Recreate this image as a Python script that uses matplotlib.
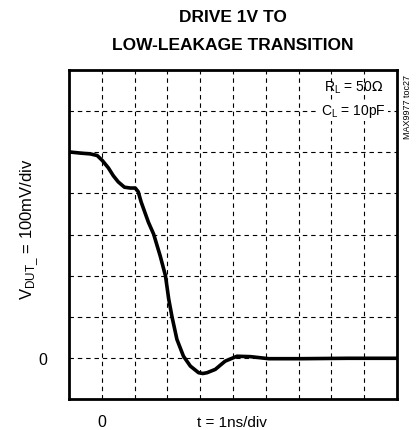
"""Drive 1V to low-leakage transition scope trace."""

import matplotlib.pyplot as plt
from matplotlib import font_manager

# time in ns (grid starts at -1), voltage in mV
t_ns = [-1.02, -0.66, -0.35, -0.14, 0.015, 0.20, 0.35, 0.50, 0.69, 0.87,
        1.02, 1.11, 1.20, 1.33, 1.42, 1.58, 1.78, 1.94, 2.04, 2.14,
        2.29, 2.49, 2.70, 2.95, 3.08, 3.21, 3.46, 3.76, 4.12, 4.53,
        5.09, 6.05, 7.5, 9.0]
v_mv = [501, 498, 496, 492, 480, 462, 443, 428, 415, 413,
        413, 404, 379, 350, 330, 301, 248, 200, 143, 100,
        45, 4, -20, -36, -38, -36, -28, -8, 4, 3,
        -2, -2, -1, -1]

x_grid = list(range(-1, 10))
y_grid = list(range(-100, 701, 100))

names = {f.name for f in font_manager.fontManager.ttflist}
narrow = "Liberation Sans Narrow" if "Liberation Sans Narrow" in names else "Liberation Sans"
plt.rcParams["font.family"] = [narrow, "DejaVu Sans"]

W, H = 417, 431
fig = plt.figure(figsize=(W / 100, H / 100), dpi=100)
ax = fig.add_axes([69 / W, 1 - 400 / H, 328 / W, 329 / H])

for xv in x_grid[1:-1]:
    ax.axvline(xv, color="black", linewidth=0.8, linestyle=(0, (4, 3.5)), zorder=1)
for yv in y_grid[1:-1]:
    ax.axhline(yv, color="black", linewidth=0.8, linestyle=(0, (4, 3.5)), zorder=1)

ax.plot(t_ns, v_mv, color="black", linewidth=2.6, solid_capstyle="round",
        solid_joinstyle="round", zorder=3)

ax.set_xlim(-1, 9)
ax.set_ylim(-100, 700)
ax.set_xticks([0])
ax.set_xticklabels(["0"], fontsize=11.5)
ax.set_yticks([0])
ax.set_yticklabels(["0"], fontsize=11.5)
ax.tick_params(axis="y", length=0, pad=16)
ax.tick_params(axis="x", length=0, pad=11)
for sp in ax.spines.values():
    sp.set_linewidth(2.0)

fig.text(232 / W, 1 - 423 / H, "t = 1ns/div", fontsize=11,
         ha="center", va="center")
fig.text(30 / W, 1 - 229 / H, r"V$_{\mathregular{DUT\_}}$ = 100mV/div",
         fontsize=12, rotation=90, ha="center", va="center")

ax.text(8.57, 660, r"R$_{\mathregular{L}}$ = 50$\Omega$", fontsize=10,
        ha="right", va="center", zorder=4)
ax.text(8.66, 601, r"C$_{\mathregular{L}}$ = 10pF", fontsize=10, ha="right",
        va="center", zorder=4,
        bbox=dict(facecolor="white", edgecolor="none", pad=1.5))

fig.text(407 / W, 1 - 107 / H, "MAX9977 toc27", rotation=90, fontsize=6.5,
         ha="center", va="center")

fig.text(233 / W, 1 - 18 / H, "DRIVE 1V TO", fontsize=12.5, fontweight="bold",
         ha="center", va="center")
fig.text(233 / W, 1 - 46 / H, "LOW-LEAKAGE TRANSITION", fontsize=12.5,
         fontweight="bold", ha="center", va="center")

fig.savefig("out.png", dpi=100)
